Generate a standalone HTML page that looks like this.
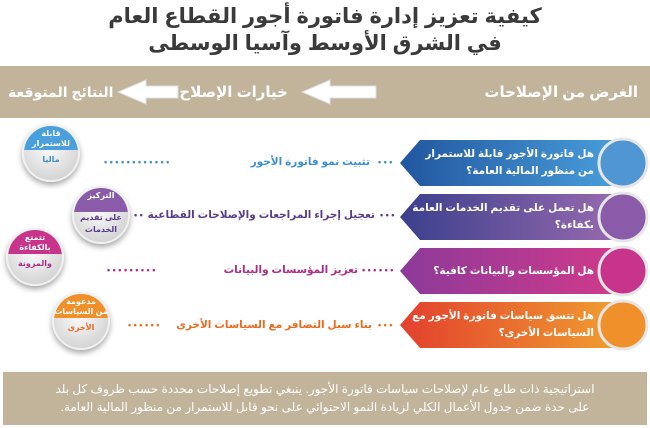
<!DOCTYPE html>
<html lang="ar"><head><meta charset="utf-8">
<style>
*{margin:0;padding:0;box-sizing:border-box}
body{width:650px;height:428px;background:#fff;position:relative;overflow:hidden;font-family:"Liberation Sans","DejaVu Sans",sans-serif}
.a{position:absolute;white-space:nowrap}
.title{left:0;width:650px;text-align:center;font-weight:bold;font-size:21px;color:#3a3a3a;direction:rtl}
.band{left:0;top:66px;width:650px;height:52px;background:#c2b49b}
.bt{color:#fff;font-size:15px;font-weight:bold;top:83px;direction:rtl}
.bq{color:#fff;font-size:10.5px;font-weight:bold;line-height:17px;left:410px;text-align:right;white-space:normal;width:184px;direction:rtl}
.mid{font-size:10.5px;font-weight:bold;direction:rtl}
.dots{font-size:9px;letter-spacing:2.5px;font-weight:bold}
.lc{width:58px;height:58px;border-radius:50%;background:radial-gradient(circle at 45% 40%,#fbfbfb,#d7d7d7 70%,#bdbdbd);box-shadow:0 3px 6px rgba(0,0,0,.35);overflow:hidden;border:2px solid #f0f0f0;direction:rtl}
.lc .top{position:absolute;left:0;top:0;width:100%;height:24px;color:#fff;font-size:8px;font-weight:bold;text-align:center;line-height:10px;padding-top:3px}
.lc .bot{position:absolute;left:0;top:28px;width:100%;text-align:center;font-size:8px;font-weight:bold;line-height:12px}
.foot{left:3px;top:372px;width:644px;height:53px;background:#c2b49b;color:#fff;font-size:12px;text-align:center;line-height:18px;padding-top:8px;direction:rtl}
</style></head><body>
<div class="a title" style="top:4px">كيفية تعزيز إدارة فاتورة أجور القطاع العام</div>
<div class="a title" style="top:31px">في الشرق الأوسط وآسيا الوسطى</div>

<div class="a band"></div>
<div class="a bt" style="right:12px">الغرض من الإصلاحات</div>
<div class="a bt" style="right:362px">خيارات الإصلاح</div>
<div class="a bt" style="left:8px;font-size:14px;top:84px">النتائج المتوقعة</div>
<svg class="a" style="left:0;top:66px" width="650" height="52">
<polygon points="302,26 330,14 330,20 376,20 376,32 330,32 330,38" fill="#fff" stroke="#ddd"/>
<polygon points="118,26 146,14 146,20 178,20 178,32 146,32 146,38" fill="#fff" stroke="#ddd"/>
</svg>

<svg class="a" style="left:395px;top:135px" width="255" height="220">
<defs>
<linearGradient id="g1"><stop offset="0" stop-color="#21569e"/><stop offset="1" stop-color="#4aa0dc"/></linearGradient>
<linearGradient id="g2"><stop offset="0" stop-color="#3b3f8c"/><stop offset="1" stop-color="#9a6bb0"/></linearGradient>
<linearGradient id="g3"><stop offset="0" stop-color="#8c3a9a"/><stop offset="1" stop-color="#d23a8a"/></linearGradient>
<linearGradient id="g4"><stop offset="0" stop-color="#e2402e"/><stop offset="1" stop-color="#f0a030"/></linearGradient>
</defs>
<polygon points="5,28 25,5 230,5 230,51 25,51" fill="url(#g1)"/>
<polygon points="5,82 25,59 230,59 230,105 25,105" fill="url(#g2)"/>
<polygon points="5,136 25,113 230,113 230,159 25,159" fill="url(#g3)"/>
<polygon points="5,190 25,167 230,167 230,213 25,213" fill="url(#g4)"/>
<circle cx="228" cy="28" r="24" fill="#4f96d2" stroke="#e6e6e6" stroke-width="3"/>
<circle cx="228" cy="82" r="24" fill="#8a5ba8" stroke="#e6e6e6" stroke-width="3"/>
<circle cx="228" cy="136" r="24" fill="#c8348c" stroke="#e6e6e6" stroke-width="3"/>
<circle cx="228" cy="190" r="24" fill="#f0902a" stroke="#e6e6e6" stroke-width="3"/>
</svg>
<div class="a bq" style="top:146px">هل فاتورة الأجور قابلة للاستمرار من منظور المالية العامة؟</div>
<div class="a bq" style="top:200px">هل تعمل على تقديم الخدمات العامة بكفاءة؟</div>
<div class="a bq" style="top:263px">هل المؤسسات والبيانات كافية؟</div>
<div class="a bq" style="top:308px">هل تتسق سياسات فاتورة الأجور مع السياسات الأخرى؟</div>

<div class="a mid" style="right:280px;top:156px;color:#3a8fd0">تثبيت نمو فاتورة الأجور</div>
<div class="a dots" style="left:104px;top:157px;color:#3a8fd0">••••••••••••</div>
<div class="a dots" style="left:378px;top:157px;color:#3a8fd0">•••</div>
<div class="a mid" style="right:275px;top:209px;color:#5b3c8c">تعجيل إجراء المراجعات والإصلاحات القطاعية</div>
<div class="a dots" style="left:134px;top:210px;color:#5b3c8c">••</div>
<div class="a dots" style="left:380px;top:210px;color:#5b3c8c">•••</div>
<div class="a mid" style="right:292px;top:264px;color:#b02a8a">تعزيز المؤسسات والبيانات</div>
<div class="a dots" style="left:107px;top:265px;color:#b02a8a">•••••••••</div>
<div class="a dots" style="left:362px;top:265px;color:#b02a8a">••••••</div>
<div class="a mid" style="right:278px;top:319px;color:#ea6a1e">بناء سبل التضافر مع السياسات الأخرى</div>
<div class="a dots" style="left:128px;top:320px;color:#ea6a1e">••••••</div>
<div class="a dots" style="left:378px;top:320px;color:#ea6a1e">•••</div>

<div class="a lc" style="left:22px;top:124px"><div class="top" style="background:#4aa0dc">قابلة<br>للاستمرار</div><div class="bot" style="color:#3a8fd0">ماليا</div></div>
<div class="a lc" style="left:72px;top:186px"><div class="top" style="background:#8a5ba8">التركيز</div><div class="bot" style="color:#5b3c8c;top:24px">على تقديم<br>الخدمات</div></div>
<div class="a lc" style="left:6px;top:228px"><div class="top" style="background:#c8348c">تتمتع<br>بالكفاءة</div><div class="bot" style="color:#b02a8a">والمرونة</div></div>
<div class="a lc" style="left:52px;top:292px"><div class="top" style="background:#f0902a">مدعومة<br>من السياسات</div><div class="bot" style="color:#ea6a1e">الأخرى</div></div>

<div class="a foot">استراتيجية ذات طابع عام لإصلاحات سياسات فاتورة الأجور. ينبغي تطويع إصلاحات محددة حسب ظروف كل بلد<br>على حدة ضمن جدول الأعمال الكلي لزيادة النمو الاحتوائي على نحو قابل للاستمرار من منظور المالية العامة.</div>
</body></html>
